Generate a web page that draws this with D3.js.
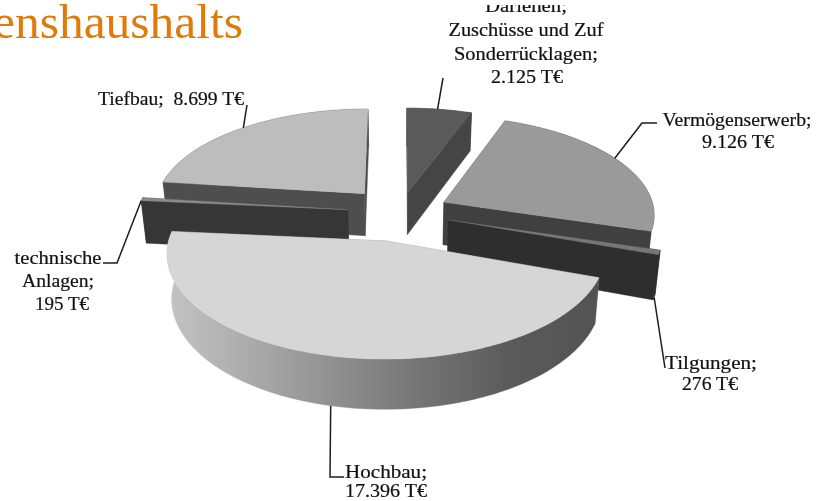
<!DOCTYPE html>
<html><head><meta charset="utf-8">
<script src="https://cdn.jsdelivr.net/npm/d3@7/dist/d3.min.js"></script>
<style>html,body{margin:0;background:#fff;overflow:hidden}svg{display:block;filter:blur(.55px)}</style>
</head><body><svg id="c" width="819" height="501"></svg>
<script>
// --- data (order = clockwise from 12 o'clock) ---
const categories = ["Darlehen, Zuschüsse und Zuf Sonderrücklagen","Vermögenserwerb","Tilgungen","Hochbau","technische Anlagen","Tiefbau"];
const values = [2125, 9126, 276, 17396, 195, 8699];
const explode = [0.21, 0.235, 0.24, 0.29, 0.25, 0.26];
const topColors = ["#5a5a5a","#9a9a9a","#777777","#d6d6d6","#8a8a8a","#bdbdbd"];
const wallColors = ["#454545","#404040","#2e2e2e","#8a8a8a","#363636","#4e4e4e"];
const paintOrder = [0,5,1,4,2,3];
const titleText = "enshaushalts";
const labelLines = [
 [["Darlehen;",526,12,82],["Zuschüsse und Zuf",526,36,155],["Sonderrücklagen;",526,60,144],["2.125 T€",527,83,72]],
 [["Vermögenserwerb;",737,126,149],["9.126 T€",738,148,72]],
 [["Tilgungen;",711,369,92],["276 T€",710,390,56]],
 [["Hochbau;",386,478,82],["17.396 T€",386,497,82]],
 [["technische",58,264,87],["Anlagen;",58,287,72],["195 T€",62,310,54]],
 [["Tiefbau;  8.699 T€",171,105,146]]
];
// leader: fraction along slice rim for the anchor, then the elbow points toward the label
const leaderAt = [0.47,0.47,0.5,0.503,0,0.51];
const leaderElbows = [[[443,78]],[[642,123],[657,123]],[[665,368]],[[330,477],[344,477]],[[117,263],[103,263]],[[247,105]]];

// --- projection (perspective view of a tilted disc) ---
const cx=400, horizon=-666, gain=0.24, depth=0.049, shrink=0.98;
const invH=d3.scaleLinear().domain([0,1]).range([1.1385e-3,1.1385e-3+1.27e-4]);
function project(X,Y,bottom){
  const h=1/invH(Y);
  const f=bottom?shrink:1;
  return [cx+gain*h*X*f, h+horizon+(bottom?depth*h:0)];
}
const arcs=d3.pie().sort(null).startAngle(0).endAngle(2*Math.PI)(values);
const svg=d3.select("#c");
const defs=svg.append("defs");
const g=defs.append("linearGradient").attr("id","wall").attr("gradientUnits","userSpaceOnUse")
  .attr("x1",165).attr("x2",600).attr("y1",0).attr("y2",0);
[[0,"#c4c4c4"],[.2,"#aaaaaa"],[.4,"#8e8e8e"],[.6,"#737373"],[.8,"#5a5a5a"],[1,"#535353"]]
 .forEach(s=>g.append("stop").attr("offset",s[0]).attr("stop-color",s[1]));
defs.append("clipPath").attr("id","topclip").append("rect").attr("x",0).attr("y",5).attr("width",819).attr("height",496);
const line=d3.line();
function geom(i){
  const a=arcs[i], mid=(a.startAngle+a.endAngle)/2;
  const ox=explode[i]*Math.sin(mid), oy=explode[i]*Math.cos(mid);
  const pt=(t,r,b)=>project(ox+r*Math.sin(t),oy+r*Math.cos(t),b);
  const n=Math.max(2,Math.ceil((a.endAngle-a.startAngle)/0.02));
  const ts=d3.range(n+1).map(k=>a.startAngle+(a.endAngle-a.startAngle)*k/n);
  return {a,pt,ts};
}
const chart=svg.append("g");
paintOrder.forEach(i=>{
  const {a,pt,ts}=geom(i);
  const poly=(d,fill)=>chart.append("path").attr("d",line(d)+"Z").attr("fill",fill).attr("stroke",fill).attr("stroke-width",.4);
  const cut=t=>[pt(t,0,false),pt(t,1,false),pt(t,1,true),pt(t,0,true)];
  poly(cut(a.endAngle),wallColors[i]);
  poly(cut(a.startAngle),wallColors[i]);
  const rimT=ts.map(t=>pt(t,1,false)), rimB=ts.map(t=>pt(t,1,true)).reverse();
  poly(rimT.concat(rimB), i===3?"url(#wall)":wallColors[i]);
  poly([pt(a.startAngle,0,false)].concat(rimT),topColors[i]);
});
// leaders
const leaders=svg.append("g").attr("fill","none").attr("stroke","#1c1c1c").attr("stroke-width",1.5);
categories.forEach((c,i)=>{
  const {a,pt}=geom(i);
  const t=a.startAngle+(a.endAngle-a.startAngle)*leaderAt[i];
  const bottom=(i===3||i===2);
  leaders.append("path").attr("d",line([pt(t,1,bottom)].concat(leaderElbows[i])));
});
// labels
const labels=svg.append("g").attr("clip-path","url(#topclip)").attr("font-family","'Liberation Serif',serif").attr("font-size",18).attr("fill","#111").attr("stroke","#111").attr("stroke-width",.2);
labelLines.forEach(ls=>ls.forEach(l=>{
  labels.append("text").attr("x",l[1]).attr("y",l[2]).attr("text-anchor","middle")
    .attr("textLength",l[3]).attr("lengthAdjust","spacingAndGlyphs").style("white-space","pre").text(l[0]);
}));
svg.append("text").attr("x",243).attr("y",38).attr("text-anchor","end")
  .attr("textLength",250).attr("lengthAdjust","spacingAndGlyphs")
  .attr("font-family","'Liberation Serif',serif").attr("font-size",48).attr("fill","#e07b0a").text(titleText);
</script></body></html>
